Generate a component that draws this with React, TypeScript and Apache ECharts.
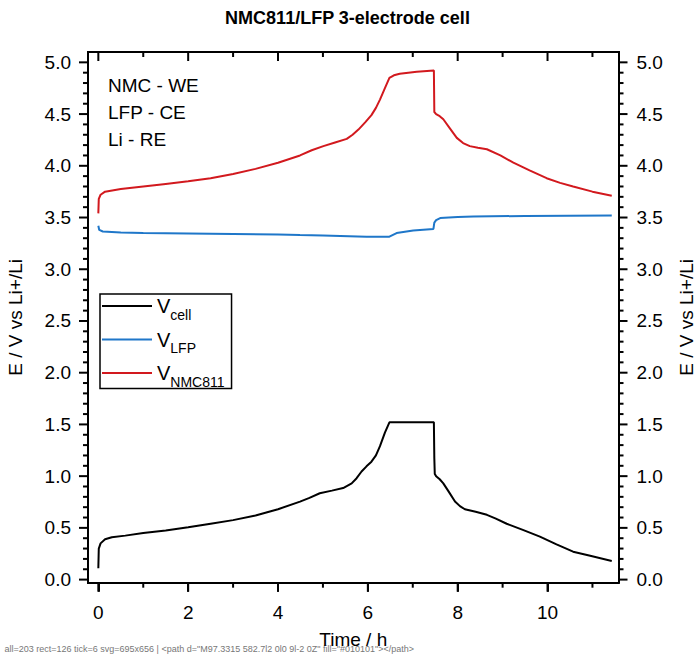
import React, { useEffect, useRef } from 'react';
import * as echarts from 'echarts';

// Cell voltage (black)
const timeCell = [0, 0.01, 0.05, 0.15, 0.3, 0.6, 1.0, 1.5, 2.0, 2.5, 3.0, 3.5, 4.0, 4.49, 4.7, 4.93, 5.2, 5.45, 5.64, 5.75, 5.86, 5.97, 6.08, 6.18, 6.27, 6.38, 6.48, 7.47, 7.48, 7.49, 7.52, 7.6, 7.68, 7.8, 7.94, 8.05, 8.16, 8.4, 8.65, 8.85, 9.09, 9.45, 9.83, 10.2, 10.57, 10.95, 11.43];
const vCell = [0.11, 0.3, 0.35, 0.39, 0.41, 0.425, 0.45, 0.475, 0.505, 0.54, 0.575, 0.62, 0.68, 0.754, 0.79, 0.835, 0.86, 0.885, 0.93, 0.98, 1.045, 1.095, 1.14, 1.2, 1.29, 1.42, 1.52, 1.52, 1.17, 1.02, 1.0, 0.97, 0.93, 0.85, 0.755, 0.71, 0.68, 0.655, 0.626, 0.59, 0.54, 0.48, 0.415, 0.34, 0.27, 0.23, 0.18];

// LFP counter electrode (blue)
const timeLFP = [0, 0.02, 0.1, 0.5, 1.0, 2.0, 3.0, 4.0, 4.49, 5.0, 5.97, 6.48, 6.64, 7.01, 7.46, 7.48, 7.52, 7.61, 8.0, 8.35, 9.5, 11.43];
const vLFP = [3.42, 3.38, 3.365, 3.355, 3.35, 3.345, 3.34, 3.335, 3.33, 3.325, 3.315, 3.315, 3.35, 3.375, 3.39, 3.45, 3.475, 3.495, 3.505, 3.51, 3.515, 3.52];

// NMC811 working electrode (red)
const timeNMC = [0, 0.01, 0.05, 0.15, 0.5, 1.0, 1.5, 2.0, 2.5, 3.0, 3.5, 4.0, 4.49, 4.75, 5.01, 5.27, 5.53, 5.66, 5.79, 5.94, 6.08, 6.18, 6.27, 6.38, 6.48, 6.58, 6.71, 7.09, 7.47, 7.48, 7.52, 7.6, 7.68, 7.83, 7.98, 8.12, 8.27, 8.45, 8.65, 8.95, 9.24, 9.6, 9.98, 10.28, 10.57, 11.0, 11.43];
const vNMC = [3.54, 3.68, 3.72, 3.75, 3.775, 3.8, 3.825, 3.85, 3.88, 3.92, 3.97, 4.03, 4.1, 4.15, 4.19, 4.225, 4.26, 4.3, 4.35, 4.42, 4.49, 4.56, 4.64, 4.75, 4.85, 4.875, 4.89, 4.91, 4.92, 4.52, 4.5, 4.48, 4.45, 4.36, 4.27, 4.22, 4.19, 4.175, 4.16, 4.1, 4.03, 3.955, 3.88, 3.835, 3.8, 3.75, 3.71];

const xMajorTicks = [0, 2, 4, 6, 8, 10];
const xMinorTicks = [1, 3, 5, 7, 9, 11];
const yMajorTicks = [0, 0.5, 1.0, 1.5, 2.0, 2.5, 3.0, 3.5, 4.0, 4.5, 5.0];
const yMinorTicks = [0.1, 0.2, 0.3, 0.4, 0.6, 0.7, 0.8, 0.9, 1.1, 1.2, 1.3, 1.4, 1.6, 1.7, 1.8, 1.9, 2.1, 2.2, 2.3, 2.4, 2.6, 2.7, 2.8, 2.9, 3.1, 3.2, 3.3, 3.4, 3.6, 3.7, 3.8, 3.9, 4.1, 4.2, 4.3, 4.4, 4.6, 4.7, 4.8, 4.9];

const seriesNames = ['Vcell', 'VLFP', 'VNMC811'];
const seriesSubs = ['cell', 'LFP', 'NMC811'];
const seriesColors = ['#000000', '#1f77c9', '#d2191e'];
const annotationLines = ['NMC - WE', 'LFP - CE', 'Li - RE'];

const FONT = 'Liberation Sans, Arial, sans-serif';
const X_MIN = -0.23;
const X_MAX = 11.58;
const Y_MIN = -0.03;
const Y_MAX = 5.1;
const W = 695;
const H = 656;
const MAJOR_LEN = 9;
const MINOR_LEN = 5;

function pairs(t: number[], v: number[]) {
  return t.map((x, i) => [x, v[i]]);
}

export default function App() {
  const ref = useRef<HTMLDivElement>(null);
  useEffect(() => {
    if (!ref.current) return;
    const el = ref.current;
    const chart = echarts.init(el, undefined, { renderer: 'svg' });
    const lineStyle = { color: '#000', width: 2, cap: 'square' as const };
    const noSplit = { show: false };
    const labelFont = { fontSize: 19, fontFamily: FONT, color: '#000' };
    const subMap: Record<string, string> = {};
    seriesNames.forEach((n, i) => (subMap[n] = seriesSubs[i]));

    const annotation = {
      type: 'text',
      left: 108,
      top: 71.5,
      style: {
        text: annotationLines.join('\n'),
        font: `19px ${FONT}`,
        lineHeight: 27,
        fill: '#000',
      },
    };

    chart.setOption({
      animation: false,
      backgroundColor: '#fff',
      title: {
        text: 'NMC811/LFP 3-electrode cell',
        left: 'center',
        top: 0,
        padding: [9, 0, 0, 11],
        textStyle: { fontSize: 18, fontWeight: 'bold', fontFamily: FONT, color: '#000' },
      },
      grid: { left: 88, right: 76.5, top: 52, bottom: 73.3, containLabel: false, outerBoundsMode: 'none' },
      legend: {
        data: seriesNames,
        orient: 'vertical',
        left: 100,
        top: 294,
        padding: [2, 7, 0, 2],
        itemWidth: 50,
        itemHeight: 2,
        itemGap: 8,
        icon: 'rect',
        borderColor: '#000',
        borderWidth: 1.5,
        formatter: (name: string) => `{v|V}{s|${subMap[name]}}`,
        textStyle: {
          rich: {
            v: { fontSize: 20, fontFamily: FONT, color: '#000' },
            s: { fontSize: 14, fontFamily: FONT, color: '#000', padding: [17, 0, 0, 0] },
          },
        },
      },
      graphic: [annotation],
      xAxis: [
        {
          type: 'value',
          min: X_MIN,
          max: X_MAX,
          splitLine: noSplit,
          position: 'bottom',
          name: 'Time / h',
          nameLocation: 'middle',
          nameGap: 47,
          nameTextStyle: { ...labelFont },
          axisLine: { show: true, onZero: false, lineStyle },
          axisTick: { show: true, length: 9, lineStyle: { color: '#030303', width: 2 }, customValues: xMajorTicks },
          axisLabel: { ...labelFont, margin: 20, customValues: xMajorTicks, formatter: (v: number) => String(v) },
        },
        {
          type: 'value',
          min: X_MIN,
          max: X_MAX,
          splitLine: noSplit,
          position: 'top',
          axisLine: { show: true, onZero: false, lineStyle },
          axisTick: { show: false },
          axisLabel: { show: false },
        },
      ],
      yAxis: [
        {
          type: 'value',
          min: Y_MIN,
          max: Y_MAX,
          splitLine: noSplit,
          position: 'left',
          name: 'E / V vs Li+/Li',
          nameLocation: 'middle',
          nameGap: 63,
          nameTextStyle: { ...labelFont },
          axisLine: { show: true, onZero: false, lineStyle },
          axisTick: { show: false },
          axisLabel: { ...labelFont, margin: 17, customValues: yMajorTicks, formatter: (v: number) => v.toFixed(1) },
        },
        {
          type: 'value',
          min: Y_MIN,
          max: Y_MAX,
          splitLine: noSplit,
          position: 'right',
          name: 'E / V vs Li+/Li',
          nameLocation: 'middle',
          nameGap: 58,
          nameRotate: 90,
          nameTextStyle: { ...labelFont },
          axisLine: { show: true, onZero: false, lineStyle },
          axisTick: { show: false },
          axisLabel: { ...labelFont, margin: 18, customValues: yMajorTicks, formatter: (v: number) => v.toFixed(1) },
        },
      ],
      series: [
        { name: seriesNames[0], data: pairs(timeCell, vCell) },
        { name: seriesNames[1], data: pairs(timeLFP, vLFP) },
        { name: seriesNames[2], data: pairs(timeNMC, vNMC) },
      ].map((s, i) => ({
        ...s,
        type: 'line',
        xAxisIndex: 0,
        yAxisIndex: 0,
        showSymbol: false,
        symbol: 'none',
        smooth: false,
        color: seriesColors[i],
        itemStyle: { color: seriesColors[i] },
        lineStyle: { color: seriesColors[i], width: 2 },
        z: 3 - i,
      })),
    });

    // Tick marks placed through the chart's own axis scales
    const tickEls: any[] = [];
    let debug = '';
    try {
      const toPx = (p: number[]) => chart.convertToPixel({ gridIndex: 0 }, p) as number[];
      const addRect = (x: number, y: number, w: number, h: number) => {
        tickEls.push({ type: 'rect', shape: { x, y, width: w, height: h }, style: { fill: '#010101' } });
      };
      xMajorTicks.concat(xMinorTicks).forEach((v) => {
        const len = xMajorTicks.indexOf(v) >= 0 ? MAJOR_LEN : MINOR_LEN;
        const b = toPx([v, Y_MIN]);
        const t = toPx([v, Y_MAX]);
        addRect(b[0] - 1, b[1], 2, len);
        addRect(t[0] - 1, t[1], 2, len);
      });
      yMajorTicks.concat(yMinorTicks).forEach((v) => {
        const len = yMajorTicks.indexOf(v) >= 0 ? MAJOR_LEN : MINOR_LEN;
        const l = toPx([X_MIN, v]);
        const r = toPx([X_MAX, v]);
        addRect(l[0] - len, l[1] - 1, len, 2);
        addRect(r[0], r[1] - 1, len, 2);
      });
    } catch (e: any) {
      debug = 'ERR ' + String(e && e.message);
    }
    chart.setOption({ graphic: [annotation, ...tickEls] });
    try {
      (chart as any).getZr().flush();
      const all = el.querySelectorAll('*').length;
      const r1 = el.querySelectorAll('[fill="#010101"]').length;
      const r2 = el.querySelectorAll('[stroke="#030303"]').length;
      const first = el.querySelector('[fill="#010101"]');
      const info = first ? first.outerHTML.slice(0, 160) : 'none';
      const svg = el.querySelector('svg');
      debug += ` all=${all} rect=${r1} tick=${r2} svg=${svg ? svg.getAttribute('width') + 'x' + svg.getAttribute('height') : 'no'} | ${info}`;
    } catch (e: any) {
      debug += ' ERR2 ' + String(e && e.message);
    }
    chart.setOption({
      graphic: [
        annotation,
        ...tickEls,
        { type: 'text', left: 2, top: 644, style: { text: debug, font: `9px ${FONT}`, fill: '#777' } },
      ],
    });

    return () => chart.dispose();
  }, []);
  return <div ref={ref} style={{ width: W, height: H, position: 'absolute', left: 0, top: 0 }} />;
}
